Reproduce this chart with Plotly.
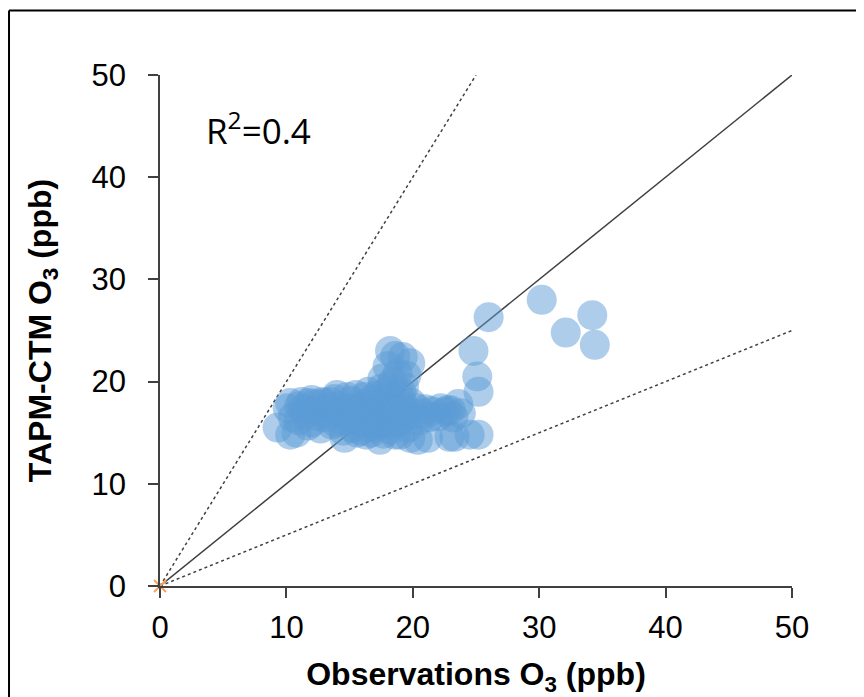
import plotly.graph_objects as go

# Observations O3 (ppb) vs TAPM-CTM O3 (ppb)
obs = [
    9.3, 10.3, 10.1, 10.5, 10.8, 11.0, 11.5, 11.8, 12.0, 12.3,
    12.8, 13.0, 13.3, 13.6, 13.8, 14.0, 14.3, 14.6, 14.8, 15.0, 15.2,
    15.5, 15.7, 15.9, 16.1, 16.3, 16.5, 16.6, 16.8, 17.0, 17.2, 17.4, 17.5,
    17.8, 18.0, 18.2, 18.3, 18.5, 18.7, 18.9, 19.0, 19.2, 19.3, 19.5, 19.6,
    11.0, 11.3, 11.7, 12.2, 12.5, 12.7, 13.2, 13.5, 13.9, 14.2,
    14.5, 14.7, 15.1, 15.3, 15.6, 15.8, 16.0, 16.2, 16.4, 16.7,
    16.9, 17.1, 17.3, 17.6, 17.7, 17.9, 18.1, 18.3, 18.4, 18.6,
    18.8, 19.0, 19.1, 19.4, 16.5, 15.4, 14.0, 13.0, 12.0, 11.2,
    18.2, 18.6, 19.2, 19.8, 18.0, 19.5, 18.8, 17.6, 18.4,
    10.3, 19.8, 20.4, 21.2, 22.9, 23.3,
    20.0, 20.8, 21.0, 21.5, 22.0, 22.5, 22.7, 23.0, 23.6, 23.8,
    20.3, 21.3, 22.2, 23.2, 20.5, 19.9,
    24.8, 25.1, 25.2, 24.5, 25.2,
    26.0, 30.2, 32.1, 34.2, 34.4,
]
model = [
    15.5, 17.9, 17.4, 16.5, 15.0, 17.6, 16.8, 17.9, 16.0, 17.2,
    18.0, 16.5, 17.5, 15.8, 18.3, 17.0, 16.2, 14.5, 18.5, 17.4, 15.5,
    18.7, 16.8, 15.2, 17.8, 14.8, 19.0, 16.3, 18.2, 15.5, 17.2, 14.3, 19.3,
    16.5, 18.5, 15.3, 19.6, 17.3, 16.0, 18.8, 14.8, 17.8, 19.5, 16.6, 15.5,
    16.2, 17.3, 15.7, 17.8, 16.6, 15.4, 16.9, 18.0, 16.0, 17.6,
    15.2, 16.7, 18.1, 16.4, 15.0, 17.5, 16.0, 18.5, 17.0, 15.0,
    16.7, 18.6, 15.8, 17.6, 14.9, 18.9, 16.8, 15.8, 17.9, 14.8,
    17.0, 16.2, 19.0, 17.2, 15.6, 17.0, 18.7, 17.9, 18.2, 18.0,
    23.0, 22.5, 22.4, 21.8, 21.5, 20.6, 20.8, 20.3, 20.0,
    14.8, 14.5, 14.3, 14.5, 14.6, 14.6,
    16.9, 16.9, 17.3, 17.1, 16.6, 17.0, 17.2, 17.2, 17.8, 16.9,
    17.4, 16.5, 17.4, 16.5, 16.2, 17.9,
    23.0, 20.5, 19.0, 14.8, 14.8,
    26.3, 28.0, 24.8, 26.5, 23.6,
]

# reference lines
line_1to1_x = [0, 50]
line_1to1_y = [0, 50]
line_2to1_x = [0, 25]
line_2to1_y = [0, 50]
line_1to2_x = [0, 50]
line_1to2_y = [0, 25]
origin_x = [0]
origin_y = [0]

tick_vals = [0, 10, 20, 30, 40, 50]
x_title = "Observations O<sub>3</sub> (ppb)"
y_title = "TAPM-CTM O<sub>3</sub> (ppb)"
r2_text = "R<sup>2</sup>=0.4"

fig = go.Figure()
fig.add_trace(go.Scatter(x=line_2to1_x, y=line_2to1_y, mode="lines",
                         line=dict(color="#404040", width=1.5, dash="dot"),
                         hoverinfo="skip", showlegend=False))
fig.add_trace(go.Scatter(x=line_1to1_x, y=line_1to1_y, mode="lines",
                         line=dict(color="#404040", width=1.5),
                         hoverinfo="skip", showlegend=False))
fig.add_trace(go.Scatter(x=line_1to2_x, y=line_1to2_y, mode="lines",
                         line=dict(color="#404040", width=1.5, dash="dot"),
                         hoverinfo="skip", showlegend=False))
fig.add_trace(go.Scatter(x=obs, y=model, mode="markers",
                         marker=dict(size=30, color="#5B9BD5", opacity=0.5,
                                     line=dict(width=0)),
                         showlegend=False))
fig.add_trace(go.Scatter(x=origin_x, y=origin_y, mode="markers",
                         marker=dict(symbol="x-thin-open", size=12,
                                     line=dict(color="#FFC000", width=2)),
                         cliponaxis=False, showlegend=False))

axis_common = dict(
    range=[0, 50], tickvals=tick_vals, showgrid=False, zeroline=False,
    showline=True, linecolor="#404040", linewidth=1.5,
    ticks="outside", ticklen=10, tickcolor="#404040", tickwidth=1.5,
    tickfont=dict(family="Liberation Sans, Arial", size=31, color="#000000"),
)

fig.update_layout(
    width=856, height=689,
    margin=dict(l=152, r=72, t=67, b=111),
    paper_bgcolor="white", plot_bgcolor="white",
    xaxis=dict(**axis_common, ticklabelstandoff=3,
               title=dict(text=x_title, standoff=20,
                          font=dict(family="Liberation Sans, Arial", size=32,
                                    color="#000000", weight="bold"))),
    yaxis=dict(**axis_common, ticklabelstandoff=16,
               title=dict(text=y_title, standoff=30,
                          font=dict(family="Liberation Sans, Arial", size=32,
                                    color="#000000", weight="bold"))),
    annotations=[dict(x=3.5, y=44.8, xref="x", yref="y", text=r2_text,
                      showarrow=False, xanchor="left", yanchor="middle",
                      font=dict(family="Open Sans", size=35, color="#000000"))],
    shapes=[
        dict(type="line", xref="paper", yref="paper",
             x0=-0.2389, x1=-0.2389, y0=-0.3, y1=1.1262,
             line=dict(color="#000000", width=2)),
        dict(type="line", xref="paper", yref="paper",
             x0=-0.2389, x1=1.2, y0=1.1262, y1=1.1262,
             line=dict(color="#000000", width=2)),
    ],
)
fig.update_xaxes(automargin=False)
fig.update_yaxes(automargin=False)

fig.write_html("out.html")
